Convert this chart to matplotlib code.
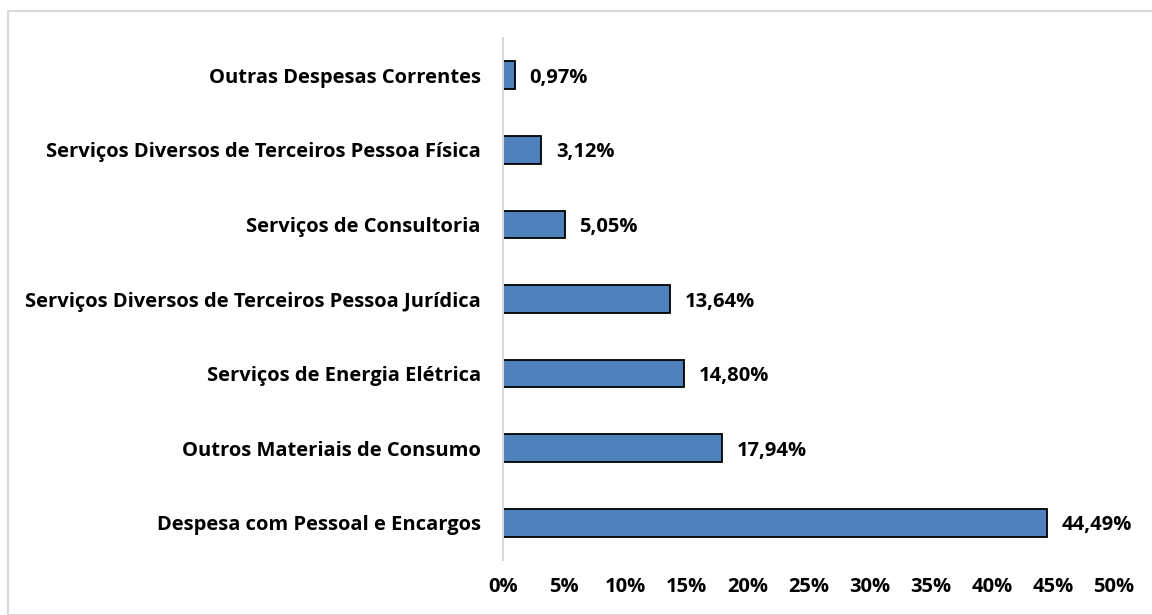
import matplotlib
matplotlib.use("Agg")
import matplotlib.pyplot as plt
from matplotlib.patches import Rectangle
from matplotlib.ticker import FuncFormatter, MultipleLocator

categories = [
    "Despesa com Pessoal e Encargos",
    "Outros Materiais de Consumo",
    "Serviços de Energia Elétrica",
    "Serviços Diversos de Terceiros Pessoa Jurídica",
    "Serviços de Consultoria",
    "Serviços Diversos de Terceiros Pessoa Física",
    "Outras Despesas Correntes",
]
values = [44.49, 17.94, 14.80, 13.64, 5.05, 3.12, 0.97]

plt.rcParams['font.family'] = ['Open Sans', 'DejaVu Sans']
FS = 14.5

fig = plt.figure(figsize=(11.52, 6.15), dpi=100)
fig.patches.append(Rectangle((8/1152, 0), 1.0, 1 - 11/615, transform=fig.transFigure,
                             fill=False, edgecolor='#d9d9d9', linewidth=1.5))
ax = fig.add_axes([503/1152, 55/615, (1114-503)/1152, (560-38)/615])

y = list(range(len(categories)))
ax.barh(y, values, height=0.37, color='#4F81BD', edgecolor='black', linewidth=1.3)
for yi, v in zip(y, values):
    ax.text(v + 1.2, yi, f"{v:.2f}%".replace('.', ','), va='center_baseline', ha='left',
            fontsize=FS, fontweight='bold')

ax.set_xlim(0, 50)
ax.set_ylim(-0.5, len(categories) - 0.5)
ax.set_yticks(y)
ax.set_yticklabels(categories, fontsize=FS, fontweight='bold')
ax.xaxis.set_major_locator(MultipleLocator(5))
ax.xaxis.set_major_formatter(FuncFormatter(lambda x, p: f"{int(x)}%"))
for lbl in ax.get_xticklabels():
    lbl.set_fontweight('bold')
ax.tick_params(axis='x', labelsize=FS, length=0, pad=12)
ax.tick_params(axis='y', length=0, pad=16)
for s in ['top', 'right', 'bottom']:
    ax.spines[s].set_visible(False)
ax.spines['left'].set_color('#d9d9d9')
ax.spines['left'].set_linewidth(1.5)

fig.savefig("out.png", dpi=100)
